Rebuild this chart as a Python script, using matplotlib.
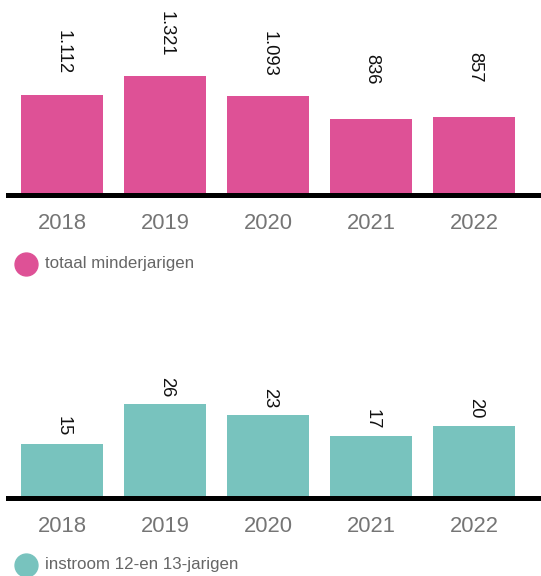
import matplotlib
matplotlib.use("Agg")
import matplotlib.pyplot as plt
from matplotlib.lines import Line2D

# Data
years = ["2018", "2019", "2020", "2021", "2022"]
totaal_minderjarigen = [1112, 1321, 1093, 836, 857]
instroom_12_13 = [15, 26, 23, 17, 20]

labels_totaal = ["1.112", "1.321", "1.093", "836", "857"]
labels_instroom = [str(v) for v in instroom_12_13]

PINK = "#DE5196"
TEAL = "#78C3BE"
W, H, DPI = 541, 576, 100

plt.rcParams["font.family"] = ["Liberation Sans", "DejaVu Sans"]

fig = plt.figure(figsize=(W / DPI, H / DPI), dpi=DPI)


def px_axes(left, top, right, bottom):
    """Create axes from pixel edges measured from the top-left corner."""
    return fig.add_axes([left / W, 1 - bottom / H, (right - left) / W, (bottom - top) / H])


def draw_panel(ax, values, labels, color, ymax, label_offset_px):
    x = list(range(len(values)))
    ax.bar(x, values, width=0.796, color=color, zorder=1)
    ax.set_xlim(-0.529, 4.646)
    ax.set_ylim(0, ymax)
    for s in ("top", "left", "right"):
        ax.spines[s].set_visible(False)
    ax.spines["bottom"].set_linewidth(3.6)
    ax.spines["bottom"].set_color("black")
    ax.spines["bottom"].set_zorder(3)
    ax.set_yticks([])
    ax.set_xticks(x)
    ax.set_xticklabels(years, fontsize=15.8, color="#757575")
    ax.tick_params(axis="x", length=0, pad=13)
    for xi, v, lab in zip(x, values, labels):
        t = ax.annotate(lab, xy=(xi, v), xytext=(0.5, label_offset_px * 72 / DPI),
                        textcoords="offset points", rotation=270,
                        ha="center", va="top", fontsize=13.2, color="#111111")
        t.set_clip_on(True)


def legend(y_px, color, text):
    fig.add_artist(Line2D([25.5 / W], [1 - y_px / H], marker="o", markersize=16.5,
                          markerfacecolor=color, markeredgecolor=color,
                          linestyle="none", transform=fig.transFigure))
    fig.text(45 / W, 1 - y_px / H, text, fontsize=12.2, color="#666666",
             ha="left", va="center")


ax1 = px_axes(8, 14, 541, 194.5)
draw_panel(ax1, totaal_minderjarigen, labels_totaal, PINK,
           (194.5 - 14) / 0.0899, 65)
legend(264, PINK, "totaal minderjarigen")

ax2 = px_axes(8, 360, 541, 497.5)
draw_panel(ax2, instroom_12_13, labels_instroom, TEAL,
           (497.5 - 360) / 3.6, 27)
legend(565, TEAL, "instroom 12-en 13-jarigen")

fig.savefig("out.png", dpi=DPI)
